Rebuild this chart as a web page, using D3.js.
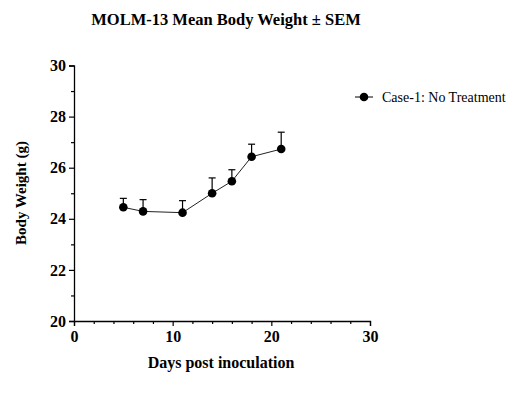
<html>
<head>
<script src="https://cdnjs.cloudflare.com/ajax/libs/d3/7.8.5/d3.min.js"></script>
<style>
  body { margin: 0; background: #fff; }
  text { font-family: "Liberation Serif", "Times New Roman", serif; }
</style>
</head>
<body>
<svg width="512" height="401"></svg>
<script>
var days = [5, 7, 11, 14, 16, 18, 21];
var weights = [24.45, 24.29, 24.24, 25.0, 25.47, 26.43, 26.73];
var sem = [0.35, 0.46, 0.47, 0.6, 0.45, 0.49, 0.66];
var seriesName = "Case-1: No Treatment";
var xTicks = [0, 10, 20, 30];
var yTicks = [20, 22, 24, 26, 28, 30];

var svg = d3.select("svg");
var x = d3.scaleLinear().domain([0, 30]).range([74, 370]);
var y = d3.scaleLinear().domain([20, 30]).range([321, 65.5]);

var data = days.map((d, i) => ({day: d, w: weights[i], e: sem[i]}));

// axes
svg.append("g").attr("transform", "translate(0,321)")
  .call(d3.axisBottom(x).tickValues(xTicks).tickSize(5).tickPadding(5).tickFormat(d3.format("d")));
svg.append("g").attr("transform", "translate(0,321)")
  .call(d3.axisBottom(x).tickValues(d3.range(0, 31, 2).filter(v => v % 10)).tickSize(3).tickFormat(""))
  .select(".domain").remove();
svg.append("g").attr("transform", "translate(74,0)")
  .call(d3.axisLeft(y).tickValues(yTicks).tickSize(5).tickPadding(3).tickFormat(d3.format("d")));
svg.append("g").attr("transform", "translate(74,0)")
  .call(d3.axisLeft(y).tickValues(d3.range(21, 30, 2)).tickSize(3).tickFormat(""))
  .select(".domain").remove();

svg.selectAll(".domain").attr("stroke", "#000").attr("stroke-width", 1.3);
svg.selectAll(".tick line").attr("stroke", "#000").attr("stroke-width", 1.2);
svg.selectAll(".tick text").attr("font-family", "Liberation Serif").attr("font-size", 16)
  .attr("font-weight", "bold").attr("fill", "#000");

// error bars (upper only)
var eb = svg.append("g").attr("stroke", "#000").attr("stroke-width", 1.2);
eb.selectAll(".v").data(data).enter().append("line")
  .attr("x1", d => x(d.day)).attr("x2", d => x(d.day))
  .attr("y1", d => y(d.w)).attr("y2", d => y(d.w + d.e));
eb.selectAll(".h").data(data).enter().append("line")
  .attr("x1", d => x(d.day) - 3.5).attr("x2", d => x(d.day) + 3.5)
  .attr("y1", d => y(d.w + d.e)).attr("y2", d => y(d.w + d.e));

// line
svg.append("path").datum(data)
  .attr("fill", "none").attr("stroke", "#222").attr("stroke-width", 1)
  .attr("d", d3.line().x(d => x(d.day)).y(d => y(d.w)));

svg.selectAll("circle.pt").data(data).enter().append("circle")
  .attr("class", "pt")
  .attr("cx", d => x(d.day)).attr("cy", d => y(d.w)).attr("r", 4.3).attr("fill", "#000");

// legend
var lg = svg.append("g").attr("transform", "translate(355,97)");
lg.append("line").attr("x1", 0).attr("x2", 18).attr("stroke", "#000").attr("stroke-width", 1);
lg.append("circle").attr("cx", 9).attr("r", 4.3).attr("fill", "#000");
lg.append("text").attr("x", 27).attr("y", 4.5).attr("font-size", 14).text(seriesName);

// titles
svg.append("text").attr("x", 226).attr("y", 25).attr("text-anchor", "middle")
  .attr("font-size", 16.5).attr("font-weight", "bold").text("MOLM-13 Mean Body Weight ± SEM");
svg.append("text").attr("x", 221).attr("y", 368).attr("text-anchor", "middle")
  .attr("font-size", 16).attr("font-weight", "bold").text("Days post inoculation");
svg.append("text").attr("transform", "translate(26,193) rotate(-90)").attr("text-anchor", "middle")
  .attr("font-size", 15).attr("font-weight", "bold").text("Body Weight (g)");
</script>
</body>
</html>
